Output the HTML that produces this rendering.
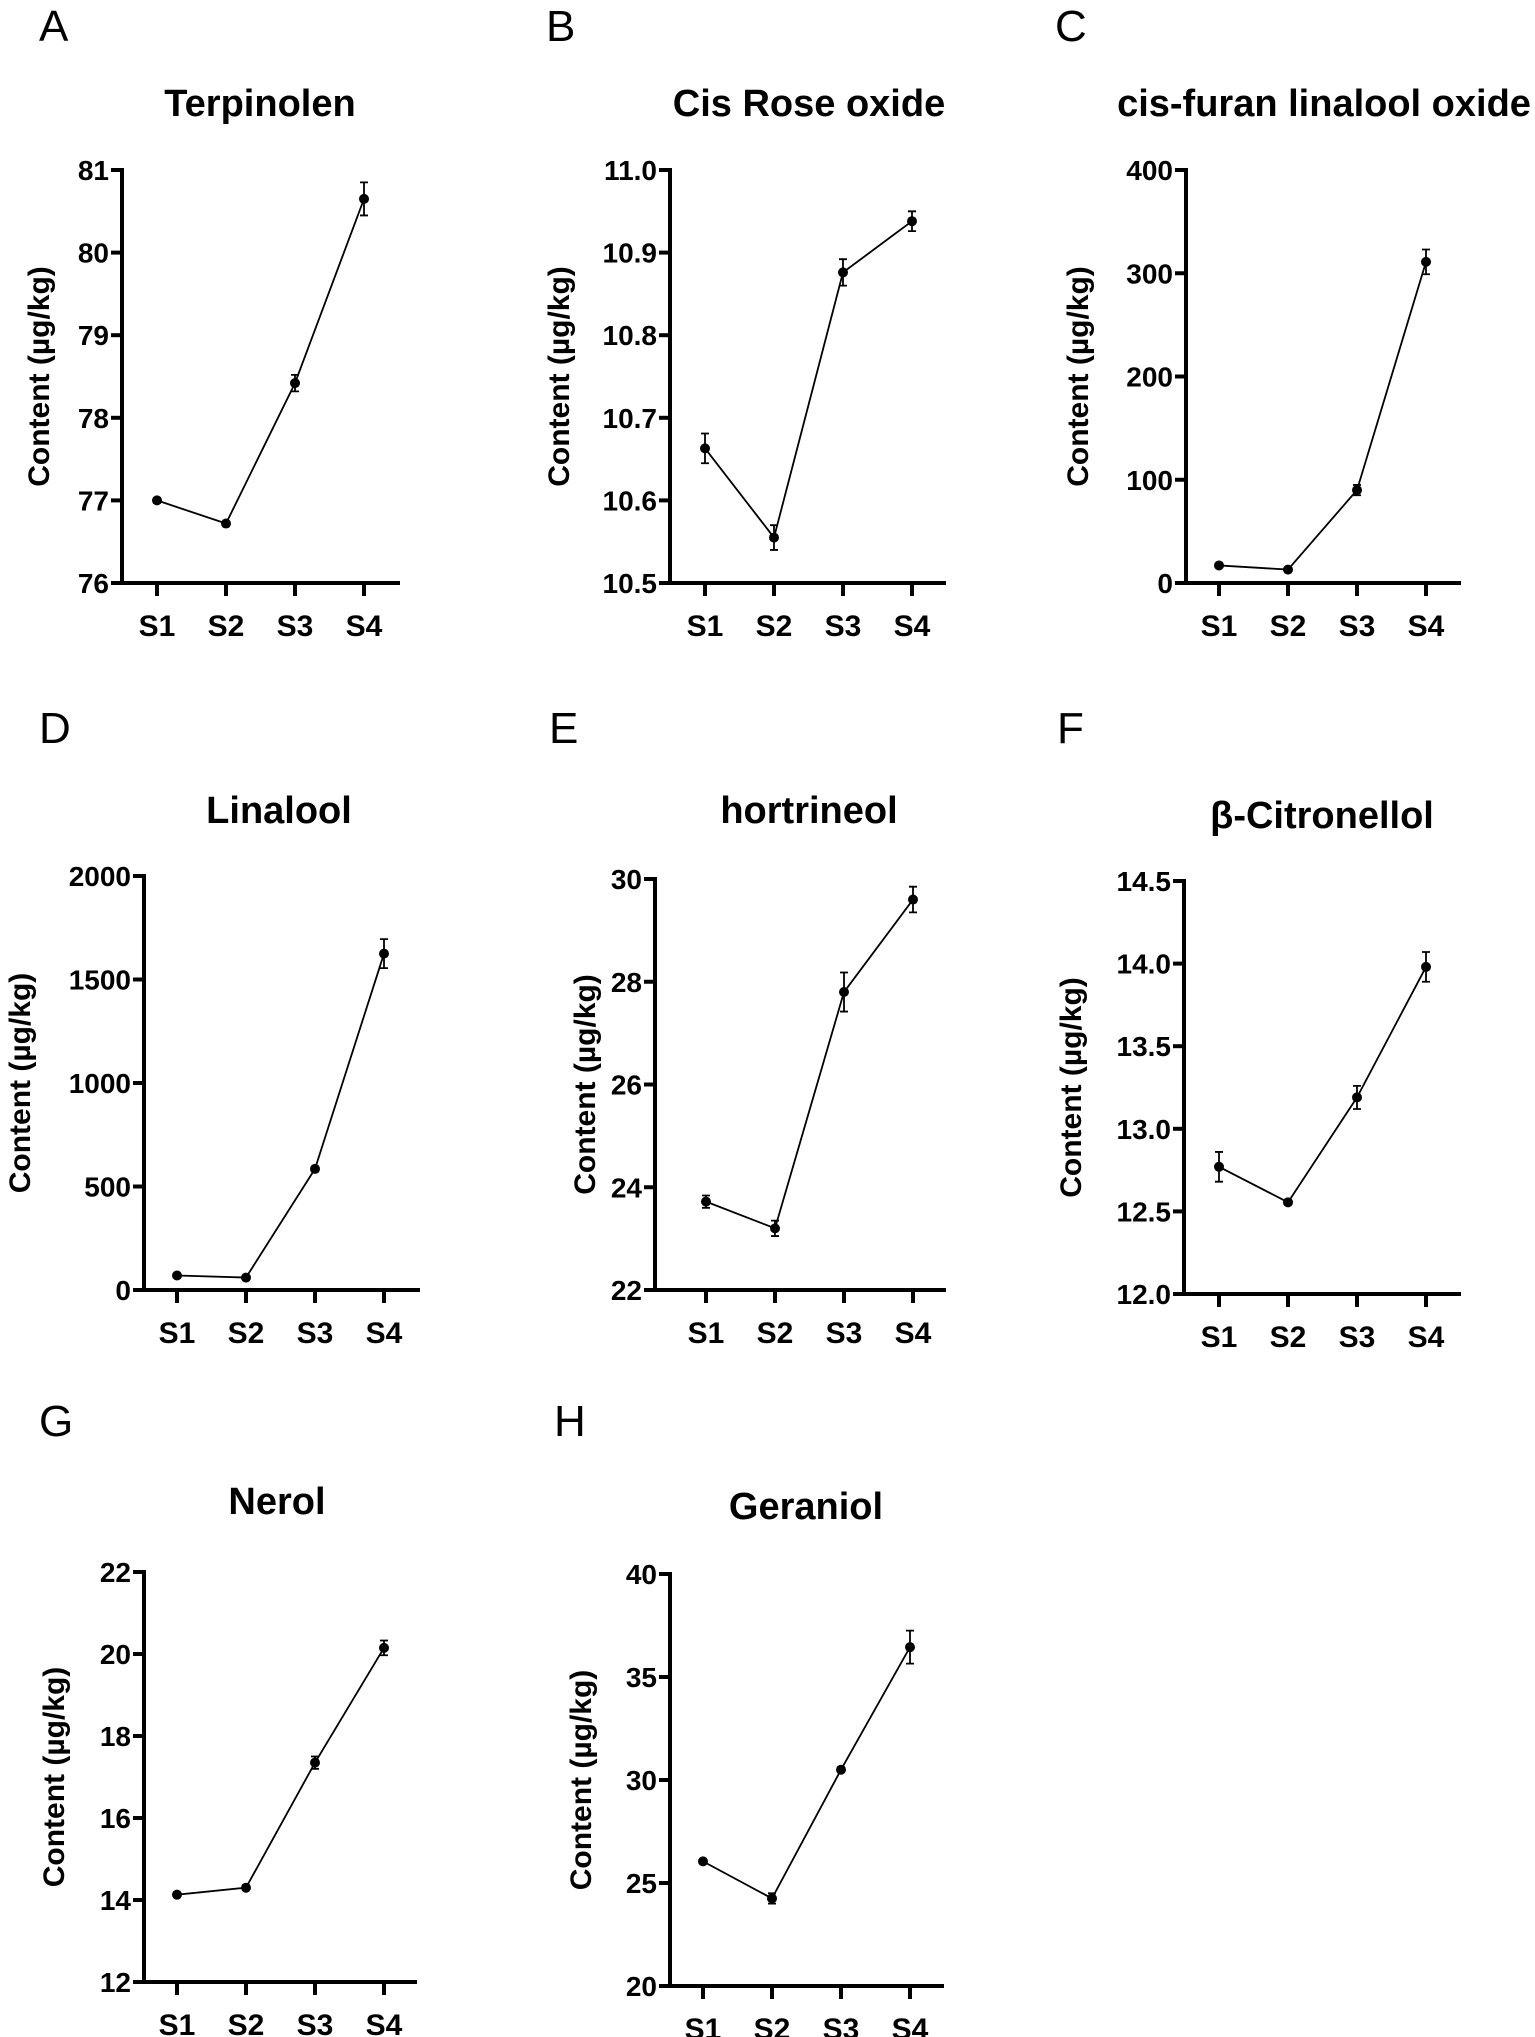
<!DOCTYPE html>
<html><head><meta charset="utf-8"><style>
html,body{margin:0;padding:0;background:#fff}
svg{display:block;font-family:"Liberation Sans",Arial,sans-serif}
</style></head><body>
<svg id="fig" width="1535" height="2037" viewBox="0 0 1535 2037" xmlns="http://www.w3.org/2000/svg"></svg>
<script>
const categories = ["S1","S2","S3","S4"];
const titles = ["Terpinolen","Cis Rose oxide","cis-furan linalool oxide","Linalool","hortrineol","β-Citronellol","Nerol","Geraniol"];
const letters = ["A","B","C","D","E","F","G","H"];
const valsA = [77.0, 76.72, 78.42, 80.65];
const errA = [0.03, 0.01, 0.1, 0.2];
const valsB = [10.663, 10.555, 10.876, 10.938];
const errB = [0.018, 0.015, 0.016, 0.012];
const valsC = [17, 13, 90, 311];
const errC = [2, 2, 5, 12];
const valsD = [70, 60, 585, 1625];
const errD = [10, 8, 12, 70];
const valsE = [23.72, 23.2, 27.8, 29.6];
const errE = [0.12, 0.15, 0.38, 0.25];
const valsF = [12.77, 12.555, 13.19, 13.98];
const errF = [0.09, 0.01, 0.07, 0.09];
const valsG = [14.13, 14.3, 17.35, 20.15];
const errG = [0.04, 0.04, 0.15, 0.18];
const valsH = [26.05, 24.25, 30.5, 36.45];
const errH = [0.1, 0.25, 0.1, 0.8];
const ticksA = ["76","77","78","79","80","81"];
const ticksB = ["10.5","10.6","10.7","10.8","10.9","11.0"];
const ticksC = ["0","100","200","300","400"];
const ticksD = ["0","500","1000","1500","2000"];
const ticksE = ["22","24","26","28","30"];
const ticksF = ["12.0","12.5","13.0","13.5","14.0","14.5"];
const ticksG = ["12","14","16","18","20","22"];
const ticksH = ["20","25","30","35","40"];

const series=[valsA,valsB,valsC,valsD,valsE,valsF,valsG,valsH];
const errs=[errA,errB,errC,errD,errE,errF,errG,errH];
const ticks=[ticksA,ticksB,ticksC,ticksD,ticksE,ticksF,ticksG,ticksH];
const L=[
 [122,170,583,400,157,69,260,103,39,25,39],
 [670,170,583,946,705,69,809,103,546,25,559],
 [1186,170,583,1461,1219,69,1324,103,1055,25,1078],
 [144,876,1290,420,177,69,279,810,39,727,20],
 [655,879,1290,946,706,69,809,810,549,727,585],
 [1184,881,1294,1461,1219,69,1322,815,1057,727,1071],
 [144,1572,1982,417,177,69,277,1501,39,1420,54],
 [670,1574,1986,944,703,69,806,1506,554,1420,581]
];
const svg=document.getElementById('fig');
const NS="http://www.w3.org/2000/svg";
function mk(tag,attrs,parent){const e=document.createElementNS(NS,tag);for(const k in attrs)e.setAttribute(k,attrs[k]);(parent||svg).appendChild(e);return e;}
for(let p=0;p<8;p++){
  const [ax,ty,by,xr,x0,st,tx,tyy,lx,ly,ylx]=L[p];
  const tk=ticks[p];
  const vmin=parseFloat(tk[0]), vmax=parseFloat(tk[tk.length-1]);
  const yS=v=>by-(v-vmin)/(vmax-vmin)*(by-ty);
  const xS=i=>x0+i*st;
  const g=mk('g',{});
  
  
  const let_=mk('text',{x:lx,y:ly+16,'font-size':44},g);
  
  
  let_.textContent=letters[p];
  const t=mk('text',{x:tx,y:tyy+13,'font-size':38,'font-weight':'bold','text-anchor':'middle'},g);
  
  
  t.textContent=titles[p];
  const yl=mk('text',{x:0,y:0,'font-size':30,'font-weight':'bold','text-anchor':'middle',transform:`translate(${ylx+10},${(ty+by)/2}) rotate(-90)`},g);
  
  
  yl.textContent='Content (µg/kg)';
  const ya=mk('line',{x1:ax,y1:ty-2,x2:ax,y2:by+2,stroke:'#000','stroke-width':4},g);
  
  
  const xa=mk('line',{x1:ax-2,y1:by,x2:xr,y2:by,stroke:'#000','stroke-width':4},g);
  
  
  tk.forEach(s=>{
    const y=yS(parseFloat(s));
    const l=mk('line',{x1:ax-11,y1:y,x2:ax,y2:y,stroke:'#000','stroke-width':4},g);
    
    
    const tl=mk('text',{x:ax-13,y:y+10,'font-size':28,'font-weight':'bold','text-anchor':'end'},g);
    
    
    tl.textContent=s;
  });
  categories.forEach((c,i)=>{
    const x=xS(i);
    const l=mk('line',{x1:x,y1:by,x2:x,y2:by+13,stroke:'#000','stroke-width':4},g);
    
    
    const tl=mk('text',{x:x,y:by+53,'font-size':30,'font-weight':'bold','text-anchor':'middle'},g);
    
    
    tl.textContent=c;
  });
  const v=series[p], e=errs[p];
  const pts=v.map((d,i)=>xS(i)+','+yS(d)).join(' ');
  const pl=mk('polyline',{points:pts,fill:'none',stroke:'#000','stroke-width':1.8},g);
  
  
  v.forEach((d,i)=>{
    const x=xS(i), y1=yS(d+e[i]), y2=yS(d-e[i]);
    const eb=mk('path',{d:`M${x},${y1}V${y2}M${x-4},${y1}H${x+4}M${x-4},${y2}H${x+4}`,stroke:'#000','stroke-width':1.8,fill:'none'},g);
    
    
    const c=mk('circle',{cx:x,cy:yS(d),r:5,fill:'#000'},g);
    
    
  });
}
</script>
</body></html>
